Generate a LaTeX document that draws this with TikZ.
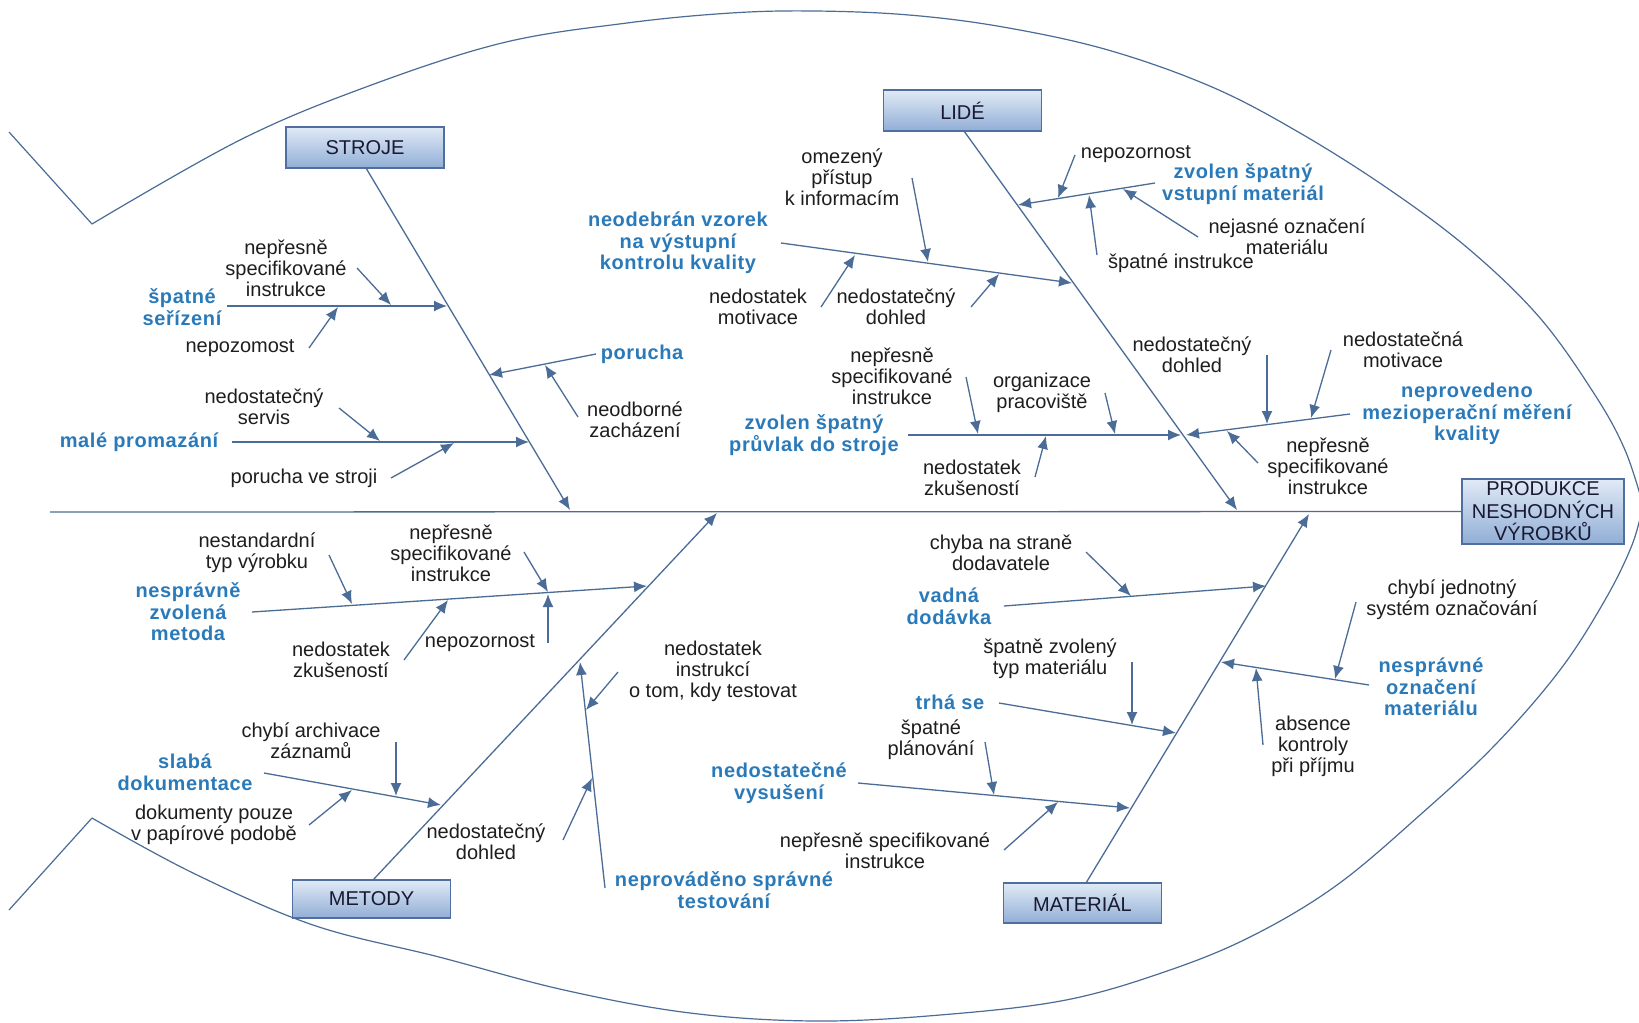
\documentclass[tikz,border=0pt]{standalone}
\usepackage{fontspec}
\setmainfont{Liberation Sans}
\newfontfamily\catff[LetterSpace=3]{Liberation Sans}
\usetikzlibrary{arrows.meta}
\definecolor{linec}{RGB}{74,108,150}
\definecolor{catc}{RGB}{42,122,186}
\definecolor{txtc}{RGB}{30,30,30}
\definecolor{boxtop}{RGB}{225,234,246}
\definecolor{boxbot}{RGB}{145,174,214}
\definecolor{boxline}{RGB}{80,110,160}
\definecolor{boxtxt}{RGB}{25,25,50}
\newcommand\lblfont{\fontsize{10}{10.5}\selectfont}
\newcommand\catfont{\catff\bfseries\fontsize{10}{10.8}\selectfont}
\newcommand\boxfont{\fontsize{10}{11.2}\selectfont}
\begin{document}
\begin{tikzpicture}[x=0.5pt,y=-0.5pt,
  outline/.style={draw=linec,line width=0.6pt},
  bone/.style={draw=linec,line width=0.65pt},
  arr/.style={bone,-{Latex[length=6.5pt,width=5.5pt]}},
  lbl/.style={font=\lblfont,text=txtc,align=center,inner sep=0pt},
  cat/.style={font=\catfont,text=catc,align=center,inner sep=0pt},
  catbox/.style={draw=boxline,line width=0.7pt,top color=boxtop,bottom color=boxbot,
     font=\boxfont,text=boxtxt,align=center,inner sep=0pt,minimum width=79pt,minimum height=20.5pt}]
\useasboundingbox (0,0) rectangle (1639,1023);
\fill[white] (0,0) rectangle (1639,1023);
% ---------- fish outline ----------
\begin{scope}
\clip (0,0) rectangle (1639,1023);
\draw[outline] (9,132) -- (92,224);
\draw[outline] plot[smooth,tension=0.6] coordinates {(92,224) (240,140) (366,87) (502,43) (627,23) (731,13) (815,11) (909,15) (1003,27) (1108,50) (1212,87) (1300,133) (1390,190) (1470,250) (1540,318) (1595,395) (1625,450) (1643,505)};
\draw[outline] (9,910) -- (92,818);
\draw[outline] plot[smooth,tension=0.6] coordinates {(92,818) (193,873) (313,925) (439,957) (564,990) (690,1013) (815,1021) (940,1015) (1066,1000) (1170,970) (1254,935) (1337,885) (1420,815) (1495,745) (1560,670) (1605,600) (1632,545) (1643,505)};
\end{scope}
% ---------- boxes ----------
\node[catbox] (stroje) at (365,147.5) {STROJE};
\node[catbox] (lide) at (962.5,110.5) {LIDÉ};
\node[catbox,minimum height=19pt] (metody) at (371.5,899) {METODY};
\node[catbox,minimum height=20pt] (material) at (1082.5,903) {MATERIÁL};
\node[catbox,minimum width=81pt,minimum height=32.5pt] (produkce) at (1543,511.5) {PRODUKCE\\NESHODNÝCH\\VÝROBKŮ};
% ---------- spine and main bones ----------
\coordinate (spineL) at (50,512);
\draw[bone] (spineL) -- (produkce.west);
\coordinate (sB) at (366,168);   \coordinate (sE) at (570,510);
\coordinate (lB) at (964,131);   \coordinate (lE) at (1237,510);
\coordinate (mB) at (373,880);   \coordinate (mE) at (717,513);
\coordinate (tB) at (1086,883);  \coordinate (tE) at (1309,514);
\draw[arr] (sB) -- (sE);
\draw[arr] (lB) -- (lE);
\draw[arr] (mB) -- (mE);
\draw[arr] (tB) -- (tE);
% ---------- STROJE ----------
\node[cat] (serizeni) at (182,307) {špatné\\seřízení};
\node[lbl] (s1) at (286,268) {nepřesně\\specifikované\\instrukce};
\node[lbl] (s2) at (240,348) {nepozomost};
\node[lbl] (s3) at (264,407) {nedostatečný\\servis};
\node[cat] (promazani) at (139,442) {malé promazání};
\node[lbl] (s4) at (304,478) {porucha ve stroji};
\node[cat] (porucha) at (642,354) {porucha};
\node[lbl] (s5) at (635,420) {neodborné\\zacházení};
\coordinate (A1s) at (227,306); \coordinate (A1e) at (447,306);
\coordinate (a1s) at (357,268); \coordinate (a1e) at (391,305);
\coordinate (a2s) at (309,348); \coordinate (a2e) at (338,307);
\coordinate (A2s) at (232,442); \coordinate (A2e) at (529,442);
\coordinate (a3s) at (339,408); \coordinate (a3e) at (380,441);
\coordinate (a4s) at (391,478); \coordinate (a4e) at (454,443);
\coordinate (A3s) at (596,354); \coordinate (A3e) at (489,375);
\coordinate (a5s) at (578,417); \coordinate (a5e) at (545,365);
\draw[arr] (A1s) -- (A1e); \draw[arr] (a1s) -- (a1e); \draw[arr] (a2s) -- (a2e);
\draw[arr] (A2s) -- (A2e); \draw[arr] (a3s) -- (a3e); \draw[arr] (a4s) -- (a4e);
\draw[arr] (A3s) -- (A3e); \draw[arr] (a5s) -- (a5e);
% ---------- LIDE ----------
\node[cat] (neodebran) at (678,243) {neodebrán vzorek\\na výstupní\\kontrolu kvality};
\node[lbl] (l1) at (842,177) {omezený\\přístup\\k informacím};
\node[lbl] (l2) at (758,307) {nedostatek\\motivace};
\node[lbl] (l3) at (896,307) {nedostatečný\\dohled};
\node[cat] (vstupni) at (1243,184) {zvolen špatný\\vstupní materiál};
\node[lbl] (l4) at (1136,154) {nepozornost};
\node[lbl] (l5) at (1181,263) {špatné instrukce};
\node[lbl] (l6) at (1287,237) {nejasné označení\\materiálu};
\node[cat] (pruvlak) at (814,435) {zvolen špatný\\průvlak do stroje};
\node[lbl] (l7) at (892,376) {nepřesně\\specifikované\\instrukce};
\node[lbl] (l8) at (1042,393) {organizace\\pracoviště};
\node[lbl] (l9) at (972,478) {nedostatek\\zkušeností};
\node[cat] (neprovedeno) at (1467,414) {neprovedeno\\mezioperační měření\\kvality};
\node[lbl] (l10) at (1192,355) {nedostatečný\\dohled};
\node[lbl] (l11) at (1403,350) {nedostatečná\\motivace};
\node[lbl] (l12) at (1328,466) {nepřesně\\specifikované\\instrukce};
\coordinate (B1s) at (781,243);  \coordinate (B1e) at (1072,283);
\coordinate (b1s) at (912,178);  \coordinate (b1e) at (928,262);
\coordinate (b2s) at (821,307);  \coordinate (b2e) at (855,255);
\coordinate (b3s) at (971,307);  \coordinate (b3e) at (999,274);
\coordinate (B2s) at (1155,183); \coordinate (B2e) at (1018,205);
\coordinate (b4s) at (1075,155); \coordinate (b4e) at (1058,198);
\coordinate (b5s) at (1097,255); \coordinate (b5e) at (1089,195);
\coordinate (b6s) at (1198,237); \coordinate (b6e) at (1123,189);
\coordinate (B3s) at (908,435);  \coordinate (B3e) at (1181,435);
\coordinate (b7s) at (966,377);  \coordinate (b7e) at (978,434);
\coordinate (b8s) at (1105,393); \coordinate (b8e) at (1115,434);
\coordinate (b9s) at (1035,477); \coordinate (b9e) at (1046,436);
\coordinate (B4s) at (1350,414); \coordinate (B4e) at (1186,435);
\coordinate (b10s) at (1267,355); \coordinate (b10e) at (1267,424);
\coordinate (b11s) at (1331,350); \coordinate (b11e) at (1311,418);
\coordinate (b12s) at (1258,463); \coordinate (b12e) at (1227,431);
\draw[arr] (B1s) -- (B1e); \draw[arr] (b1s) -- (b1e); \draw[arr] (b2s) -- (b2e); \draw[arr] (b3s) -- (b3e);
\draw[arr] (B2s) -- (B2e); \draw[arr] (b4s) -- (b4e); \draw[arr] (b5s) -- (b5e); \draw[arr] (b6s) -- (b6e);
\draw[arr] (B3s) -- (B3e); \draw[arr] (b7s) -- (b7e); \draw[arr] (b8s) -- (b8e); \draw[arr] (b9s) -- (b9e);
\draw[arr] (B4s) -- (B4e); \draw[arr] (b10s) -- (b10e); \draw[arr] (b11s) -- (b11e); \draw[arr] (b12s) -- (b12e);
% ---------- METODY ----------
\node[cat] (metoda) at (188,612) {nesprávně\\zvolená\\metoda};
\node[lbl] (m1) at (257,553) {nestandardní\\typ výrobku};
\node[lbl] (m2) at (451,553) {nepřesně\\specifikované\\instrukce};
\node[lbl] (m3) at (341,660) {nedostatek\\zkušeností};
\node[lbl] (m4) at (480,643) {nepozornost};
\node[cat] (testovani) at (724,890) {neprováděno správné\\testování};
\node[lbl] (m5) at (713,671) {nedostatek\\instrukcí\\o tom, kdy testovat};
\node[lbl] (m6) at (486,842) {nedostatečný\\dohled};
\node[cat] (dokumentace) at (185,772) {slabá\\dokumentace};
\node[lbl] (m7) at (311,741) {chybí archivace\\záznamů};
\node[lbl] (m8) at (214,825) {dokumenty pouze\\v papírové podobě};
\coordinate (C1s) at (252,612); \coordinate (C1e) at (647,586);
\coordinate (c1s) at (329,555); \coordinate (c1e) at (352,604);
\coordinate (c2s) at (524,552); \coordinate (c2e) at (548,592);
\coordinate (c3s) at (404,660); \coordinate (c3e) at (448,600);
\coordinate (c4s) at (548,643); \coordinate (c4e) at (548,594);
\coordinate (C2s) at (605,888); \coordinate (C2e) at (580,662);
\coordinate (c5s) at (618,672); \coordinate (c5e) at (586,710);
\coordinate (c6s) at (563,840); \coordinate (c6e) at (592,778);
\coordinate (C3s) at (264,773); \coordinate (C3e) at (441,805);
\coordinate (c7s) at (396,742); \coordinate (c7e) at (396,796);
\coordinate (c8s) at (309,825); \coordinate (c8e) at (352,790);
\draw[arr] (C1s) -- (C1e); \draw[arr] (c1s) -- (c1e); \draw[arr] (c2s) -- (c2e); \draw[arr] (c3s) -- (c3e); \draw[arr] (c4s) -- (c4e);
\draw[arr] (C2s) -- (C2e); \draw[arr] (c5s) -- (c5e); \draw[arr] (c6s) -- (c6e);
\draw[arr] (C3s) -- (C3e); \draw[arr] (c7s) -- (c7e); \draw[arr] (c8s) -- (c8e);
% ---------- MATERIAL ----------
\node[cat] (dodavka) at (949,606) {vadná\\dodávka};
\node[lbl] (t1) at (1001,553) {chyba na straně\\dodavatele};
\node[cat] (trha) at (950,702) {trhá se};
\node[lbl] (t2) at (1050,659) {špatně zvolený\\typ materiálu};
\node[cat] (vysuseni) at (779,783) {nedostatečné\\vysušení};
\node[lbl] (t3) at (931,740) {špatné\\plánování};
\node[lbl] (t4) at (885,851) {nepřesně specifikované\\instrukce};
\node[cat] (oznaceni) at (1431,687) {nesprávné\\označení\\materiálu};
\node[lbl] (t5) at (1452,600) {chybí jednotný\\systém označování};
\node[lbl] (t6) at (1313,746) {absence\\kontroly\\při příjmu};
\coordinate (D1s) at (1004,606); \coordinate (D1e) at (1266,586);
\coordinate (d1s) at (1086,552); \coordinate (d1e) at (1131,596);
\coordinate (D2s) at (999,703);  \coordinate (D2e) at (1176,733);
\coordinate (d2s) at (1132,662); \coordinate (d2e) at (1132,725);
\coordinate (D3s) at (858,783);  \coordinate (D3e) at (1130,808);
\coordinate (d3s) at (985,742);  \coordinate (d3e) at (994,795);
\coordinate (d4s) at (1004,850); \coordinate (d4e) at (1058,802);
\coordinate (D4s) at (1369,685); \coordinate (D4e) at (1221,662);
\coordinate (d5s) at (1356,602); \coordinate (d5e) at (1335,679);
\coordinate (d6s) at (1263,745); \coordinate (d6e) at (1256,668);
\draw[arr] (D1s) -- (D1e); \draw[arr] (d1s) -- (d1e);
\draw[arr] (D2s) -- (D2e); \draw[arr] (d2s) -- (d2e);
\draw[arr] (D3s) -- (D3e); \draw[arr] (d3s) -- (d3e); \draw[arr] (d4s) -- (d4e);
\draw[arr] (D4s) -- (D4e); \draw[arr] (d5s) -- (d5e); \draw[arr] (d6s) -- (d6e);
\end{tikzpicture}
\end{document}
